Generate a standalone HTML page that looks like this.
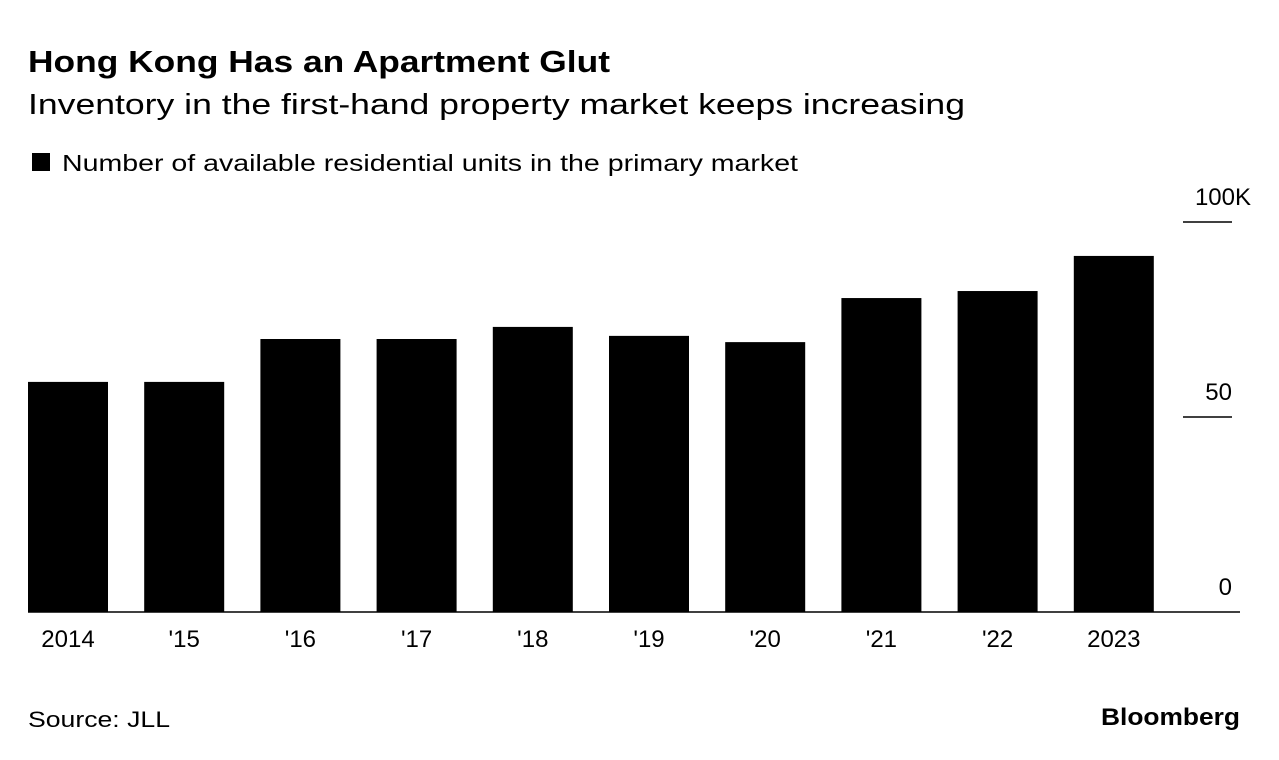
<!DOCTYPE html>
<html><head><meta charset="utf-8"><style>
html,body{margin:0;padding:0;background:#fff}
svg{display:block;font-family:"Liberation Sans",Arial,sans-serif}
</style></head><body>
<svg id="chart" width="1279" height="760" viewBox="0 0 1279 760">
<text x="28" y="72" font-size="31" font-weight="bold" textLength="582" lengthAdjust="spacingAndGlyphs">Hong Kong Has an Apartment Glut</text>
<text x="28" y="114" font-size="29" textLength="937" lengthAdjust="spacingAndGlyphs">Inventory in the first-hand property market keeps increasing</text>
<rect x="32" y="153" width="18" height="18" fill="#000"/>
<text x="62" y="171" font-size="23" textLength="736" lengthAdjust="spacingAndGlyphs">Number of available residential units in the primary market</text>
<g id="bars"></g>
<g id="axes"></g>
<text x="28" y="727" font-size="22" textLength="142" lengthAdjust="spacingAndGlyphs">Source: JLL</text>
<text x="1240" y="725" font-size="24" font-weight="bold" text-anchor="end" textLength="139" lengthAdjust="spacingAndGlyphs">Bloomberg</text>
</svg>
<script>
const categories=["2014","'15","'16","'17","'18","'19","'20","'21","'22","2023"];
const values=[59.0,59.0,70.0,70.0,73.1,70.8,69.2,80.5,82.3,91.3];
const tickValues=[0,50,100];
const tickLabels=["0","50","100K"];
const NS="http://www.w3.org/2000/svg";
const y0=612,pxPer=3.9;
function yScale(v){return y0-v*pxPer;}
function xScale(i){return 28+i*116.2;}
const bw=80;
const bars=document.getElementById('bars'),axes=document.getElementById('axes');
values.forEach((v,i)=>{
 const r=document.createElementNS(NS,'rect');
 
 
 r.setAttribute('x',xScale(i));r.setAttribute('y',yScale(v));
 r.setAttribute('width',bw);r.setAttribute('height',y0-yScale(v));
 r.setAttribute('fill','#000');bars.appendChild(r);
 const t=document.createElementNS(NS,'text');
 
 
 t.setAttribute('x',xScale(i)+bw/2);t.setAttribute('y',647);
 t.setAttribute('font-size','24');t.setAttribute('text-anchor','middle');
 t.textContent=categories[i];axes.appendChild(t);
});
tickValues.forEach((v,i)=>{
 const l=document.createElementNS(NS,'line');
 
 
 const y=yScale(v);
 l.setAttribute('x1',v===0?28:1183);l.setAttribute('x2',v===0?1240:1232);
 l.setAttribute('y1',y);l.setAttribute('y2',y);
 l.setAttribute('stroke','#000');l.setAttribute('stroke-width','1.5');
 axes.appendChild(l);
 const t=document.createElementNS(NS,'text');
 
 
 t.setAttribute('x',tickLabels[i].indexOf('K')>=0?1251:1232);t.setAttribute('y',y-17);
 t.setAttribute('font-size','24');t.setAttribute('text-anchor','end');
 t.textContent=tickLabels[i];axes.appendChild(t);
});
</script>
</body></html>
